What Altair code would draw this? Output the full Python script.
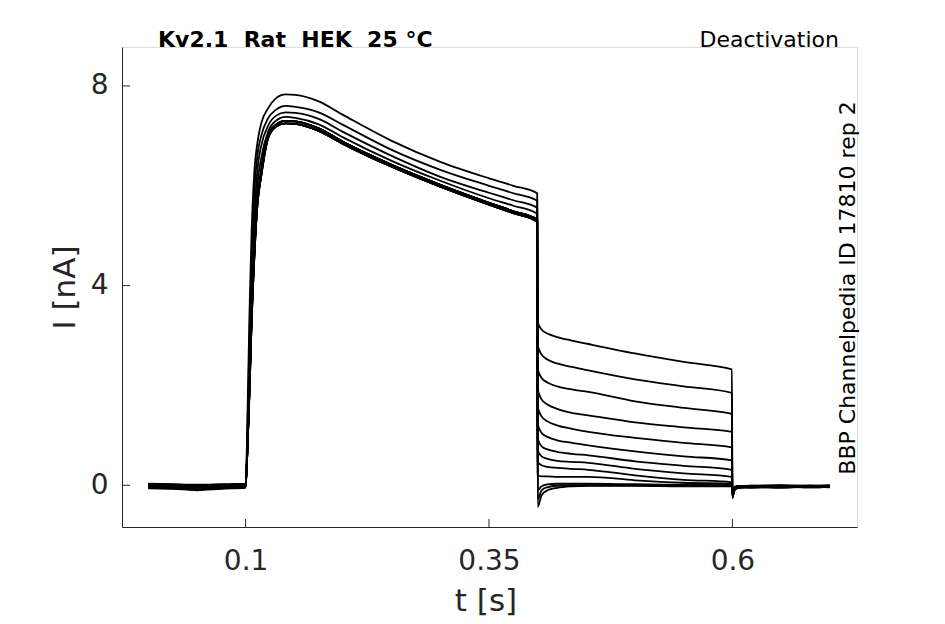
import altair as alt
import pandas as pd

# ---------------- data ----------------
TRACES = list(range(1, 14))

T_PRE = [0.0, 0.025, 0.05, 0.075, 0.0995]
PRE = [
    [0.02, 0.01, 0.00, 0.01, 0.02],
    [0.00, -0.02, -0.03, -0.01, 0.00],
    [-0.03, -0.05, -0.04, -0.03, -0.02],
    [0.01, 0.00, -0.02, 0.00, 0.01],
    [-0.05, -0.06, -0.08, -0.05, -0.04],
    [-0.02, -0.03, -0.05, -0.02, -0.01],
    [0.03, 0.02, 0.01, 0.02, 0.03],
    [-0.01, -0.02, -0.04, -0.03, -0.02],
    [-0.04, -0.05, -0.09, -0.06, -0.04],
    [0.00, 0.01, -0.01, 0.00, 0.00],
    [-0.06, -0.07, -0.10, -0.07, -0.05],
    [-0.02, -0.01, -0.03, -0.02, -0.03],
    [0.01, -0.01, -0.02, -0.01, 0.00],
]

T_ACT = [0.1, 0.102, 0.104, 0.106, 0.109, 0.112, 0.116, 0.123, 0.131,
         0.141, 0.151, 0.175, 0.2, 0.25, 0.3, 0.35, 0.375, 0.3995]
ACT = {
    "A": [0, 1.5, 3.5, 5.0, 6.3, 6.85, 7.25, 7.55, 7.75, 7.83, 7.82, 7.69, 7.42, 6.90, 6.48, 6.15, 6.00, 5.85],
    "B": [0, 1.2, 3.0, 4.5, 5.9, 6.6, 7.0, 7.35, 7.52, 7.60, 7.58, 7.47, 7.22, 6.72, 6.32, 6.00, 5.85, 5.70],
    "C": [0, 1.0, 2.6, 4.0, 5.4, 6.3, 6.8, 7.2, 7.40, 7.47, 7.46, 7.34, 7.08, 6.60, 6.18, 5.86, 5.71, 5.56],
    "D": [0, 0.9, 2.3, 3.6, 5.0, 6.0, 6.55, 7.08, 7.30, 7.38, 7.36, 7.23, 6.97, 6.50, 6.10, 5.75, 5.60, 5.44],
    "E": [0, 0.8, 2.0, 3.3, 4.7, 5.7, 6.3, 7.0, 7.22, 7.30, 7.29, 7.15, 6.88, 6.42, 6.02, 5.66, 5.49, 5.32],
    "F": [0, 0.8, 1.9, 3.2, 4.6, 5.6, 6.2, 6.95, 7.18, 7.25, 7.24, 7.10, 6.84, 6.38, 5.98, 5.62, 5.45, 5.28],
}
ENV_OF_TRACE = ["A", "B", "C", "D", "E", "E", "F", "E", "F", "E", "F", "E", "F"]

T_TAIL = [0.4, 0.404, 0.41, 0.42, 0.435, 0.452, 0.5, 0.55, 0.5995]
TAIL = [
    [3.27, 3.12, 3.04, 2.97, 2.90, 2.83, 2.64, 2.47, 2.32],
    [2.80, 2.62, 2.52, 2.44, 2.37, 2.30, 2.12, 1.98, 1.85],
    [2.33, 2.15, 2.06, 1.98, 1.92, 1.87, 1.68, 1.55, 1.43],
    [1.93, 1.72, 1.62, 1.53, 1.45, 1.40, 1.26, 1.16, 1.07],
    [1.57, 1.38, 1.28, 1.20, 1.13, 1.07, 0.95, 0.85, 0.76],
    [1.23, 1.05, 0.97, 0.90, 0.85, 0.80, 0.68, 0.58, 0.50],
    [0.93, 0.78, 0.72, 0.67, 0.63, 0.60, 0.48, 0.39, 0.31],
    [0.70, 0.58, 0.53, 0.49, 0.47, 0.45, 0.33, 0.24, 0.17],
    [0.47, 0.40, 0.37, 0.35, 0.33, 0.31, 0.20, 0.11, 0.06],
    [0.20, 0.18, 0.18, 0.17, 0.17, 0.17, 0.10, 0.05, 0.03],
    [-0.10, -0.02, 0.02, 0.03, 0.03, 0.03, 0.02, 0.01, 0.00],
    [-0.28, -0.10, -0.04, -0.01, 0.00, 0.00, 0.00, 0.00, -0.01],
    [-0.43, -0.20, -0.10, -0.05, -0.02, -0.01, -0.01, -0.02, -0.02],
]

T_POST = [0.6, 0.602, 0.606, 0.62, 0.65, 0.68, 0.7]
POST = [
    [-0.22, -0.09, -0.04, -0.03, -0.02, -0.03, -0.02],
    [-0.25, -0.10, -0.05, -0.03, -0.04, -0.02, -0.03],
    [-0.20, -0.08, -0.03, -0.02, -0.02, -0.01, -0.02],
    [-0.26, -0.11, -0.05, -0.04, -0.03, -0.04, -0.03],
    [-0.18, -0.07, -0.03, -0.02, -0.01, -0.02, -0.01],
    [-0.24, -0.09, -0.04, -0.05, -0.03, -0.03, -0.04],
    [-0.15, -0.06, -0.02, -0.01, 0.00, -0.01, 0.00],
    [-0.22, -0.08, -0.04, -0.03, -0.05, -0.03, -0.02],
    [-0.12, -0.05, -0.02, -0.02, -0.01, -0.02, -0.01],
    [-0.20, -0.07, -0.03, -0.03, -0.02, -0.04, -0.03],
    [-0.10, -0.04, -0.02, -0.01, -0.02, -0.01, -0.02],
    [-0.08, -0.04, -0.03, -0.02, -0.03, -0.02, -0.03],
    [-0.06, -0.03, -0.02, -0.03, -0.02, -0.03, -0.02],
]

X_TICKS = [0.1, 0.35, 0.6]
Y_TICKS = [0, 4, 8]
X_DOMAIN = [-0.027, 0.728]
Y_DOMAIN = [-0.836, 8.78]

TITLE_LEFT = "Kv2.1\u00a0 Rat\u00a0 HEK\u00a0 25 °C"
TITLE_RIGHT = "Deactivation"
SIDE_TEXT = "BBP Channelpedia ID 17810 rep 2"

# ---------------- build table ----------------
rows = []
for k, tr in enumerate(TRACES):
    seq = []
    seq += list(zip(T_PRE, PRE[k]))
    seq += list(zip(T_ACT, ACT[ENV_OF_TRACE[k]]))
    seq += list(zip(T_TAIL, TAIL[k]))
    seq += list(zip(T_POST, POST[k]))
    for j, (t, v) in enumerate(seq):
        rows.append({"trace": tr, "t": t, "i": v, "order": j})
df = pd.DataFrame(rows)

W, H = 735, 480
FONT = "DejaVu Sans"
GREY = "#262626"

xscale = alt.Scale(domain=X_DOMAIN, nice=False, zero=False)
yscale = alt.Scale(domain=Y_DOMAIN, nice=False, zero=False)

lines = alt.Chart(df).mark_line(color="black", strokeWidth=1.8, interpolate="monotone").encode(
    x=alt.X("t:Q", scale=xscale,
            axis=alt.Axis(values=X_TICKS, format="~g", ticks=False, tickSize=0,
                          grid=False, labelFontSize=28, labelPadding=20,
                          labelColor=GREY, domainColor=GREY, labelFont=FONT,
                          title="t [s]", titleFont=FONT, titleFontSize=31,
                          titleFontWeight="normal", titleColor=GREY,
                          titleBaseline="middle", titleY=74, titleX=W / 2 - 4)),
    y=alt.Y("i:Q", scale=yscale,
            axis=alt.Axis(values=Y_TICKS, format="d", ticks=False, tickSize=0,
                          grid=False, labelFontSize=28, labelPadding=14,
                          labelColor=GREY, domainColor=GREY, labelFont=FONT,
                          title="I [nA]", titleFont=FONT, titleFontSize=31,
                          titleFontWeight="normal", titleColor=GREY,
                          titleAngle=270, titleBaseline="middle", titleAlign="center",
                          titleX=-57, titleY=240)),
    detail="trace:N",
    order="order:Q",
)

xt = alt.Chart(pd.DataFrame({"t": X_TICKS})).mark_rule(color=GREY, strokeWidth=1).encode(
    x=alt.X("t:Q", scale=xscale), y=alt.value(H), y2=alt.value(H - 8)
)
yt = alt.Chart(pd.DataFrame({"i": Y_TICKS})).mark_rule(color=GREY, strokeWidth=1).encode(
    y=alt.Y("i:Q", scale=yscale), x=alt.value(0), x2=alt.value(8)
)

t1 = alt.Chart(pd.DataFrame({"s": [TITLE_LEFT]})).mark_text(
    font=FONT, fontSize=22, fontWeight="bold", align="left", baseline="alphabetic", color="black"
).encode(x=alt.value(36), y=alt.value(0), text="s:N")
t2 = alt.Chart(pd.DataFrame({"s": [TITLE_RIGHT]})).mark_text(
    font=FONT, fontSize=22, align="right", baseline="alphabetic", color="black"
).encode(x=alt.value(717), y=alt.value(0), text="s:N")
t3 = alt.Chart(pd.DataFrame({"s": [SIDE_TEXT]})).mark_text(
    font=FONT, fontSize=22, align="center", baseline="alphabetic", angle=270, color="black"
).encode(x=alt.value(733), y=alt.value(241), text="s:N")

chart = alt.layer(lines, xt, yt, t1, t2, t3).properties(
    width=W, height=H,
    autosize=alt.AutoSizeParams(type="none"),
    padding={"left": 114, "top": 39, "right": 60, "bottom": 94},
).configure_view(stroke=None).configure(background="white")

chart.save("out.html", embed_options={"renderer": "svg", "actions": False})
